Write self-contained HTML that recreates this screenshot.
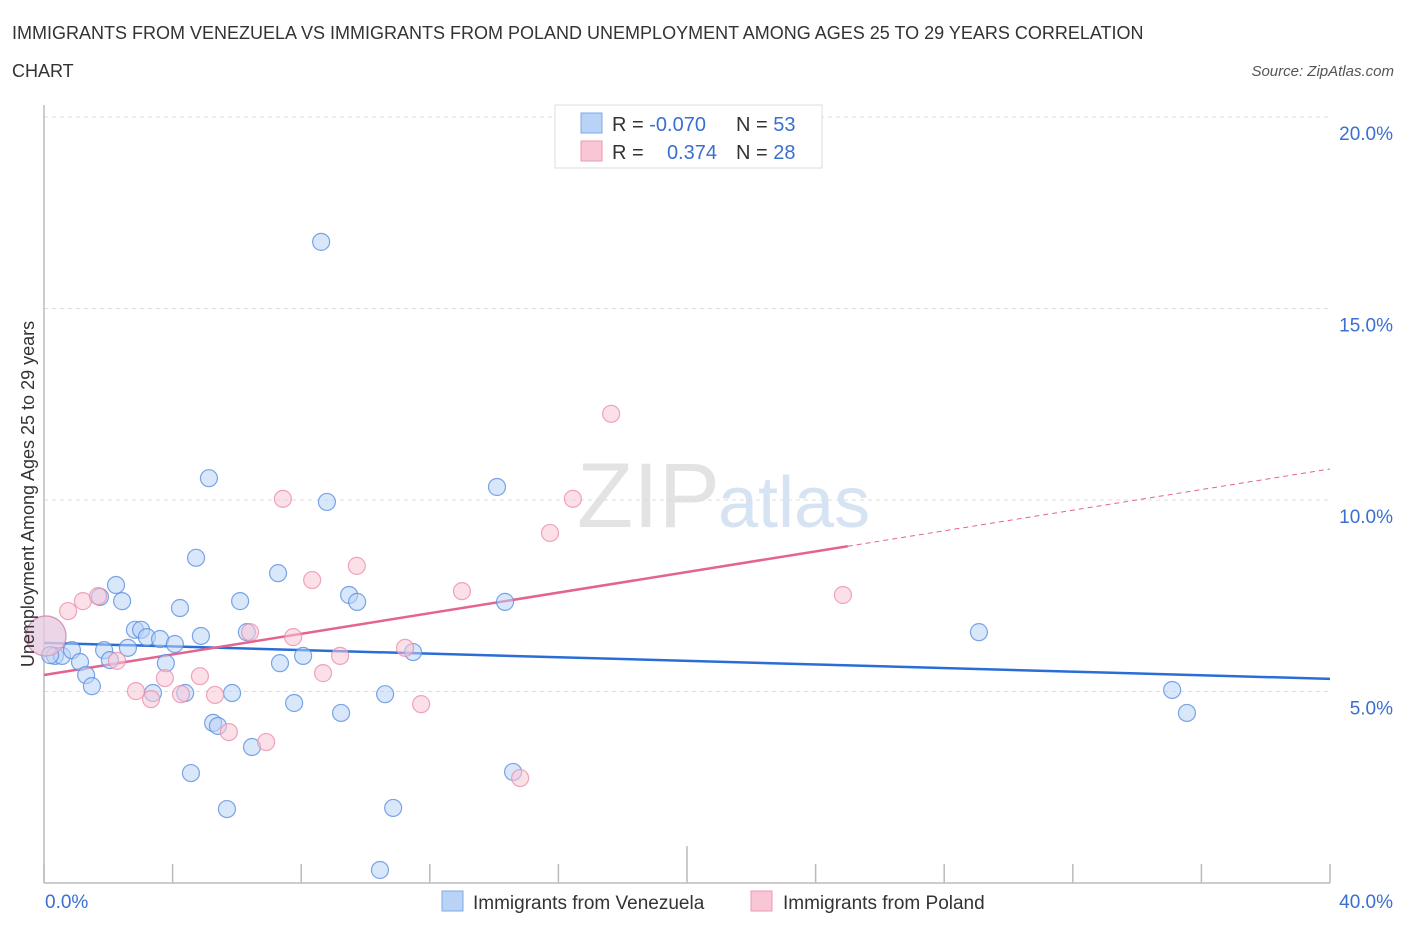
<!DOCTYPE html>
<html><head><meta charset="utf-8"><style>
body{margin:0;background:#fff;font-family:"Liberation Sans",sans-serif;}
svg text{font-family:"Liberation Sans",sans-serif;}
</style></head><body>
<svg id="chart" width="1406" height="930" xmlns="http://www.w3.org/2000/svg">
<text x="12" y="39" font-size="18" fill="#333">IMMIGRANTS FROM VENEZUELA VS IMMIGRANTS FROM POLAND UNEMPLOYMENT AMONG AGES 25 TO 29 YEARS CORRELATION</text>
<text x="12" y="77" font-size="18" fill="#333">CHART</text>
<text x="1394" y="76" font-size="15" fill="#555" font-style="italic" text-anchor="end">Source: ZipAtlas.com</text>
<text x="720" y="527" font-size="92" fill="#e3e3e3" text-anchor="end" font-family="Liberation Serif">ZIP</text>
<text x="718" y="527" font-size="72" fill="#d6e3f3">atlas</text>
<g id="grid"></g><g id="axes"></g><g id="trends"></g><g id="pts"></g>
<text transform="translate(34,494) rotate(-90)" font-size="18" fill="#333" text-anchor="middle">Unemployment Among Ages 25 to 29 years</text>
<g>
<rect x="555" y="105" width="267" height="63" fill="#fff" stroke="#ddd"/>
<rect x="581" y="113" width="21" height="20" fill="#b9d3f7" stroke="#7fa9e6"/>
<rect x="581" y="141" width="21" height="20" fill="#f9c6d6" stroke="#ec9ab6"/>
<text x="612" y="131" font-size="20" fill="#333">R = <tspan fill="#3a6fd0">-0.070</tspan></text>
<text x="736" y="131" font-size="20" fill="#333">N = <tspan fill="#3a6fd0">53</tspan></text>
<text x="612" y="159" font-size="20" fill="#333">R = </text>
<text x="717" y="159" font-size="20" fill="#3a6fd0" text-anchor="end">0.374</text>
<text x="736" y="159" font-size="20" fill="#333">N = <tspan fill="#3a6fd0">28</tspan></text>
</g>
<g>
<rect x="442" y="891" width="21" height="20" fill="#b9d3f7" stroke="#7fa9e6"/>
<text x="473" y="909" font-size="19" fill="#333">Immigrants from Venezuela</text>
<rect x="751" y="891" width="21" height="20" fill="#f9c6d6" stroke="#ec9ab6"/>
<text x="783" y="909" font-size="19" fill="#333">Immigrants from Poland</text>
</g>
</svg>
<script>
const blueX=[0.06,0.34,0.56,0.87,1.12,1.31,1.49,1.74,1.87,2.05,2.24,2.43,2.61,2.83,3.02,3.2,3.39,3.61,3.79,4.07,4.23,4.39,4.57,4.73,4.88,5.13,5.26,5.41,5.69,5.85,6.1,6.31,6.47,7.28,7.34,7.78,8.06,8.62,8.8,9.24,9.49,9.74,10.45,10.61,10.86,11.48,14.09,14.34,14.59,29.08,35.09,35.55,0.19];
const blueY=[6.45,5.93,5.93,6.08,5.77,5.43,5.14,7.47,6.08,5.82,7.78,7.36,6.14,6.61,6.61,6.42,4.96,6.37,5.74,6.24,7.18,4.96,2.87,8.49,6.45,10.57,4.18,4.1,1.93,4.96,7.36,6.55,3.55,8.09,5.74,4.7,5.93,16.74,9.95,4.44,7.52,7.34,0.34,4.93,1.96,6.03,10.34,7.34,2.9,6.55,5.04,4.44,5.95];
const pinkX=[0.06,0.75,1.21,1.68,2.27,2.86,3.33,3.76,4.26,4.85,5.32,5.75,6.41,6.91,7.43,7.75,8.34,8.68,9.21,9.73,11.23,11.73,13.0,14.81,15.74,16.45,17.64,24.85];
const pinkY=[6.45,7.1,7.36,7.49,5.8,5.01,4.8,5.35,4.93,5.4,4.91,3.94,6.55,3.68,10.03,6.42,7.91,5.48,5.93,8.28,6.14,4.67,7.62,2.74,9.14,10.03,12.25,7.52];
const blueTrend=[6.27,5.33];
const pinkTrend=[5.43,10.81];
const pinkSolidEnd=25;
const yTicks=[5,10,15,20];
const xTickLabels=["0.0%","40.0%"];
const NS="http://www.w3.org/2000/svg";
const X=v=>44+v*32.15, Y=v=>883-v*38.3;
function mk(t,a,p){const e=document.createElementNS(NS,t);for(const k in a)e.setAttribute(k,a[k]);document.getElementById(p).appendChild(e);return e;}
yTicks.forEach(t=>{
 const l=mk('line',{x1:44,x2:1330,y1:Y(t),y2:Y(t),stroke:'#ddd','stroke-dasharray':'4,4'},'grid');
 
 
 const tx=mk('text',{x:1393,y:Y(t)+23,'font-size':19,fill:'#3a6fd0','text-anchor':'end'},'grid');tx.textContent=t.toFixed(1)+'%';
 
 
});
const ax=mk('line',{x1:44,x2:44,y1:105,y2:883,stroke:'#bbb','stroke-width':1.5},'axes');


const bx=mk('line',{x1:44,x2:1330,y1:883,y2:883,stroke:'#bbb','stroke-width':1.5},'axes');


for(let i=0;i<=10;i++){const x=X(i*4);const tk=mk('line',{x1:x,x2:x,y1:i==5?846:864,y2:883,stroke:'#bbb','stroke-width':1.5},'axes');
 
 }
const xl0=mk('text',{x:45,y:908,'font-size':19,fill:'#3a6fd0'},'axes');xl0.textContent=xTickLabels[0];


const xl1=mk('text',{x:1393,y:908,'font-size':19,fill:'#3a6fd0','text-anchor':'end'},'axes');xl1.textContent=xTickLabels[1];


function pt(x,y,big,fill,stroke){const c=mk('circle',{cx:X(x),cy:Y(y),r:big?20:8.5,fill:fill,'fill-opacity':0.55,stroke:stroke,'stroke-opacity':0.8,'stroke-width':1.2},'pts');return c;}
blueX.forEach((x,i)=>{const c=pt(x,blueY[i],i==0,'#b9d3f7','#5b90de');
 
 });
pinkX.forEach((x,i)=>{const c=pt(x,pinkY[i],i==0,'#f9c6d6','#ec8fae');
 
 });
const bt=mk('line',{x1:X(0),y1:Y(blueTrend[0]),x2:X(40),y2:Y(blueTrend[1]),stroke:'#2a6dd6','stroke-width':2.5},'trends');


const pv=x=>pinkTrend[0]+(pinkTrend[1]-pinkTrend[0])*x/40;
const pt1=mk('line',{x1:X(0),y1:Y(pv(0)),x2:X(pinkSolidEnd),y2:Y(pv(pinkSolidEnd)),stroke:'#e4638f','stroke-width':2.5},'trends');


const pt2=mk('line',{x1:X(pinkSolidEnd),y1:Y(pv(pinkSolidEnd)),x2:X(40),y2:Y(pv(40)),stroke:'#e4638f','stroke-width':1,'stroke-dasharray':'5,4'},'trends');


</script>
</body></html>
